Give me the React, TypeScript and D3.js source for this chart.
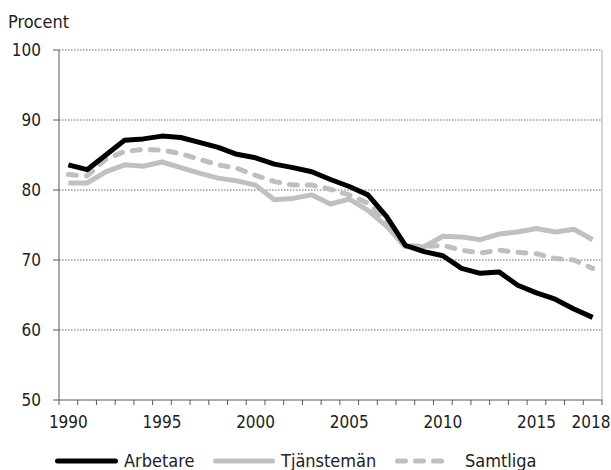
import React from 'react'
import * as d3 from 'd3'

const years = d3.range(1990, 2019)
const arbetare = [83.6, 82.9, 85.0, 87.1, 87.3, 87.7, 87.5, 86.8, 86.1, 85.1, 84.6, 83.7, 83.2, 82.6, 81.5, 80.5, 79.3, 76.2, 72.1, 71.2, 70.6, 68.8, 68.1, 68.3, 66.4, 65.3, 64.4, 63.0, 61.8]
const tjansteman = [81.0, 81.0, 82.6, 83.6, 83.4, 84.0, 83.2, 82.4, 81.7, 81.3, 80.7, 78.6, 78.8, 79.3, 78.0, 78.7, 77.1, 74.8, 71.9, 71.9, 73.4, 73.3, 72.9, 73.7, 74.0, 74.5, 74.0, 74.4, 72.9]
const samtliga = [82.2, 82.0, 84.4, 85.5, 85.8, 85.7, 85.2, 84.4, 83.6, 83.1, 82.1, 81.2, 80.7, 80.7, 80.1, 79.3, 78.1, 75.5, 72.1, 71.9, 72.1, 71.4, 71.0, 71.4, 71.1, 70.9, 70.2, 70.0, 68.8]
const yTicks = [50, 60, 70, 80, 90, 100]
const xLabels = [1990, 1995, 2000, 2005, 2010, 2015, 2018]

const series = [
  { name: 'Arbetare', values: arbetare, color: '#000000', dash: null },
  { name: 'Tjänstemän', values: tjansteman, color: '#c0c0c0', dash: null },
  { name: 'Samtliga', values: samtliga, color: '#bfbfbf', dash: '8 10' },
]

const W = 611
const H = 470
const left = 59
const right = 602
const top = 50
const bottom = 400
const font = "'DejaVu Sans Condensed', 'Roboto', sans-serif"

export default function App() {
  const band = d3.scaleBand<number>().domain(years).range([left, right])
  const x = (yr: number) => (band(yr) as number) + band.bandwidth() / 2
  const y = d3.scaleLinear().domain([50, 100]).range([bottom, top])

  const line = (vals: number[]) =>
    d3.line<number>()
      .x((_, i) => x(years[i]))
      .y((d) => y(d))(vals) as string

  // ticks sit between the year categories
  const tickXs = years.map((yr) => band(yr) as number).concat([right])

  const legend = [
    { s: series[0], x1: 55, x2: 118, tx: 124 },
    { s: series[1], x1: 213, x2: 275, tx: 281 },
    { s: series[2], x1: 395, x2: 452, tx: 465 },
  ]

  return (
    <svg width={W} height={H} style={{ position: 'absolute', left: 0, top: 0, background: '#fff' }}>
      <text x={8} y={28} fontFamily={font} fontSize={18} fill="#222">Procent</text>

      {yTicks.map((t) => (
        <g key={t}>
          {t > 50 && (
            <line x1={left} x2={right} y1={y(t)} y2={y(t)} stroke="#6a6a6a" strokeWidth={1} strokeDasharray="1.5 1.5" />
          )}
          <line x1={left - 6} x2={left} y1={y(t)} y2={y(t)} stroke="#595959" />
          <text x={41} y={y(t) + 6} textAnchor="end" fontFamily={font} fontSize={17} fill="#222">{t}</text>
        </g>
      ))}

      <line x1={right} x2={right} y1={top} y2={bottom} stroke="#c8c8c8" strokeWidth={1.5} />
      <line x1={left} x2={left} y1={top} y2={bottom} stroke="#595959" />
      <line x1={left} x2={right} y1={bottom} y2={bottom} stroke="#595959" />
      {tickXs.map((tx, i) => (
        <line key={i} x1={tx} x2={tx} y1={bottom} y2={bottom + 5} stroke="#595959" />
      ))}
      {xLabels.map((yr) => (
        <text key={yr} x={Math.min(x(yr), 591)} y={428} textAnchor="middle" fontFamily={font} fontSize={17} fill="#222">{yr}</text>
      ))}

      {[series[1], series[2], series[0]].map((s) => (
        <path
          key={s.name}
          d={line(s.values)}
          fill="none"
          stroke={s.color}
          strokeWidth={5}
          strokeLinejoin="round"
          strokeLinecap={s.dash ? 'round' : 'butt'}
          strokeDasharray={s.dash ?? undefined}
        />
      ))}

      {legend.map((l) => (
        <g key={l.s.name}>
          <line
            x1={l.x1 + 2.5}
            x2={l.x2 - 2.5}
            y1={461}
            y2={461}
            stroke={l.s.color}
            strokeWidth={5}
            strokeLinecap="round"
            strokeDasharray={l.s.dash ?? undefined}
          />
          <text x={l.tx} y={467} fontFamily={font} fontSize={18} fill="#222">{l.s.name}</text>
        </g>
      ))}
    </svg>
  )
}
